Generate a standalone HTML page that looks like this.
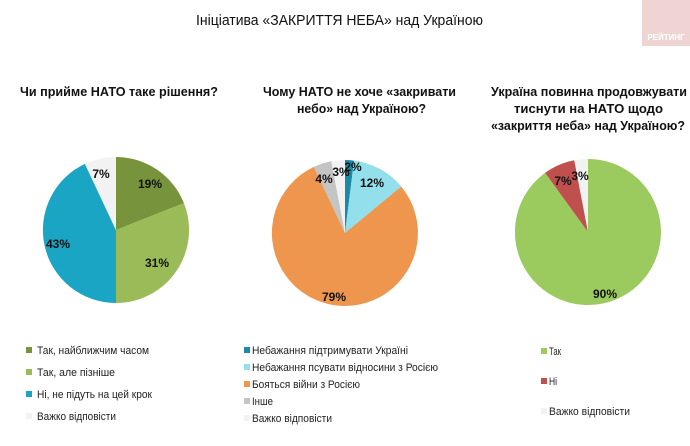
<!DOCTYPE html>
<html><head><meta charset="utf-8"><style>
body{margin:0;background:#fff;}
svg{display:block;font-family:"Liberation Sans","DejaVu Sans",sans-serif;}
.t{font-size:15px;fill:#111;}
.s{font-size:13px;font-weight:bold;fill:#111;}
.p{font-size:12px;font-weight:bold;fill:#111;}
.l{font-size:11px;fill:#222;}
</style></head><body>
<svg width="690" height="446" viewBox="0 0 690 446">
<rect x="642" y="0" width="48" height="46" fill="#efd4d4"/>
<text x="666" y="40" font-size="8" fill="#fff" text-anchor="middle" font-weight="bold">РЕЙТИНГ</text>
<text class="t" x="196" y="25" textLength="287" lengthAdjust="spacingAndGlyphs">Ініціатива «ЗАКРИТТЯ НЕБА» над Україною</text>
<text class="s" x="20" y="96" textLength="198" lengthAdjust="spacingAndGlyphs">Чи прийме НАТО таке рішення?</text>
<text class="s" x="263" y="96" textLength="193" lengthAdjust="spacingAndGlyphs">Чому НАТО не хоче «закривати</text>
<text class="s" x="297" y="113" textLength="129" lengthAdjust="spacingAndGlyphs">небо» над Україною?</text>
<text class="s" x="491" y="96" textLength="196" lengthAdjust="spacingAndGlyphs">Україна повинна продовжувати</text>
<text class="s" x="514" y="113" textLength="149" lengthAdjust="spacingAndGlyphs">тиснути на НАТО щодо</text>
<text class="s" x="491" y="130" textLength="194" lengthAdjust="spacingAndGlyphs">«закриття неба» над Україною?</text>

<!-- pie 1 -->
<path d="M116 230 L116 157 A73 73 0 0 1 183.9 203.1 Z" fill="#77933c"/>
<path d="M116 230 L183.9 203.1 A73 73 0 0 1 116 303 Z" fill="#9bbb59"/>
<path d="M116 230 L116 303 A73 73 0 0 1 84.9 163.9 Z" fill="#1aa5c4"/>
<path d="M116 230 L84.9 163.9 A73 73 0 0 1 116 157 Z" fill="#f2f2f2"/>
<text class="p" x="150" y="188" text-anchor="middle">19%</text>
<text class="p" x="157" y="267" text-anchor="middle">31%</text>
<text class="p" x="58" y="248" text-anchor="middle">43%</text>
<text class="p" x="101" y="178" text-anchor="middle">7%</text>

<!-- pie 2 -->
<path d="M345 233 L345 160 A73 73 0 0 1 354.1 160.6 Z" fill="#1a8aa8"/>
<path d="M345 233 L354.1 160.6 A73 73 0 0 1 401.2 186.5 Z" fill="#93dfec"/>
<path d="M345 233 L401.2 186.5 A73 73 0 1 1 313.9 166.9 Z" fill="#ee954e"/>
<path d="M345 233 L313.9 166.9 A73 73 0 0 1 331.3 161.3 Z" fill="#c4c4c4"/>
<path d="M345 233 L331.3 161.3 A73 73 0 0 1 345 160 Z" fill="#f2f2f2"/>
<text class="p" x="353" y="171" text-anchor="middle" font-size="11">2%</text>
<text class="p" x="372" y="187" text-anchor="middle">12%</text>
<text class="p" x="334" y="301" text-anchor="middle">79%</text>
<text class="p" x="324" y="183" text-anchor="middle">4%</text>
<text class="p" x="341" y="176" text-anchor="middle" font-size="11">3%</text>

<!-- pie 3 -->
<path d="M588 232 L588 159 A73 73 0 1 1 545.1 172.9 Z" fill="#9bcb5f"/>
<path d="M588 232 L545.1 172.9 A73 73 0 0 1 574.3 160.3 Z" fill="#c0504d"/>
<path d="M588 232 L574.3 160.3 A73 73 0 0 1 588 159 Z" fill="#f2f2f2"/>
<text class="p" x="605" y="298" text-anchor="middle">90%</text>
<text class="p" x="563" y="185" text-anchor="middle">7%</text>
<text class="p" x="580" y="180" text-anchor="middle">3%</text>

<!-- legends -->
<rect x="26" y="347" width="6" height="6" fill="#77933c"/><text class="l" x="37" y="354" textLength="112" lengthAdjust="spacingAndGlyphs">Так, найближчим часом</text>
<rect x="26" y="369" width="6" height="6" fill="#9bbb59"/><text class="l" x="37" y="376" textLength="78" lengthAdjust="spacingAndGlyphs">Так, але пізніше</text>
<rect x="26" y="391" width="6" height="6" fill="#1aa5c4"/><text class="l" x="37" y="398" textLength="115" lengthAdjust="spacingAndGlyphs">Ні, не підуть на цей крок</text>
<rect x="26" y="413" width="6" height="6" fill="#f2f2f2"/><text class="l" x="37" y="420" textLength="79" lengthAdjust="spacingAndGlyphs">Важко відповісти</text>

<rect x="244" y="347" width="6" height="6" fill="#1a8aa8"/><text class="l" x="252" y="354" textLength="156" lengthAdjust="spacingAndGlyphs">Небажання підтримувати Україні</text>
<rect x="244" y="364" width="6" height="6" fill="#93dfec"/><text class="l" x="252" y="371" textLength="186" lengthAdjust="spacingAndGlyphs">Небажання псувати відносини з Росією</text>
<rect x="244" y="381" width="6" height="6" fill="#ee954e"/><text class="l" x="252" y="388" textLength="108" lengthAdjust="spacingAndGlyphs">Бояться війни з Росією</text>
<rect x="244" y="398" width="6" height="6" fill="#c4c4c4"/><text class="l" x="252" y="405" textLength="21" lengthAdjust="spacingAndGlyphs">Інше</text>
<rect x="244" y="415" width="6" height="6" fill="#f2f2f2"/><text class="l" x="252" y="422" textLength="80" lengthAdjust="spacingAndGlyphs">Важко відповісти</text>

<rect x="541" y="348" width="6" height="6" fill="#9bcb5f"/><text class="l" x="549" y="355" textLength="12" lengthAdjust="spacingAndGlyphs">Так</text>
<rect x="541" y="378" width="6" height="6" fill="#c0504d"/><text class="l" x="549" y="385" textLength="8" lengthAdjust="spacingAndGlyphs">Ні</text>
<rect x="541" y="408" width="6" height="6" fill="#f2f2f2"/><text class="l" x="549" y="415" textLength="81" lengthAdjust="spacingAndGlyphs">Важко відповісти</text>
</svg>
</body></html>
